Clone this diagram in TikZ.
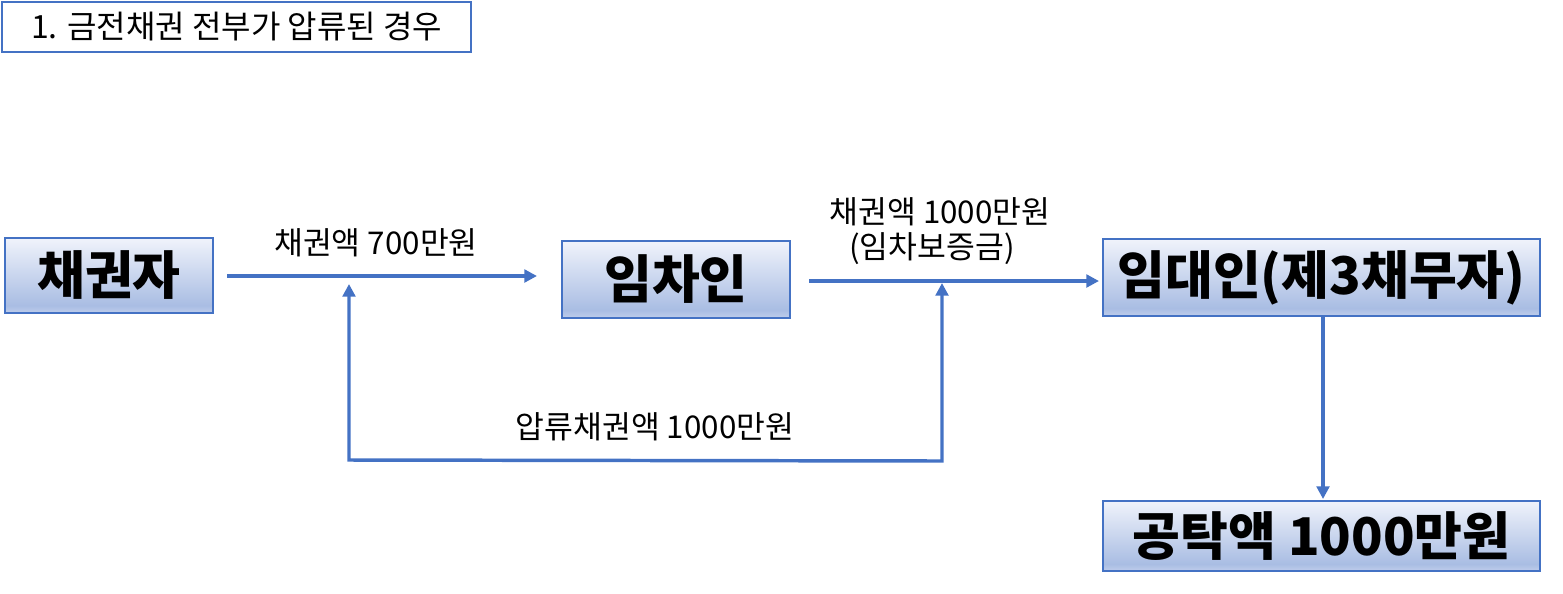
\documentclass[tikz,border=0pt]{standalone}
\usepackage{fontspec}
\setmainfont{Noto Sans CJK KR}
\usetikzlibrary{arrows.meta,calc}
\definecolor{lineblue}{HTML}{4472C4}
\definecolor{gtop}{HTML}{F0F3FB}
\definecolor{gmid}{HTML}{A9BDE3}
\definecolor{gbot}{HTML}{BFCDEB}
\pgfdeclareverticalshading{boxgrad}{100bp}{color(0bp)=(gbot); color(25bp)=(gbot); color(30bp)=(gmid); color(75bp)=(gtop); color(100bp)=(gtop)}
\begin{document}
\begin{tikzpicture}[x=0.75pt,y=-0.75pt,
  bigbox/.style={draw=lineblue,line width=1.5pt,shading=boxgrad,rectangle,inner sep=0pt,
    font=\fontsize{39}{43}\selectfont\bfseries},
  titlebox/.style={draw=lineblue,line width=1.5pt,fill=white,rectangle,inner sep=0pt,
    font=\fontsize{24}{28}\selectfont},
  lab/.style={inner sep=0pt,font=\fontsize{23.5}{27}\selectfont,align=center},
  tip/.style={},
  conn/.style={draw=lineblue,line width=2.6pt,-{Triangle[length=9.5pt,width=9.5pt]}},
  connb/.style={draw=lineblue,line width=2.6pt,{Triangle[length=9.5pt,width=9.5pt]}-{Triangle[length=9.5pt,width=9.5pt]}}]
\useasboundingbox (0,0) rectangle (1563,593);
\node[titlebox,minimum width=352pt,minimum height=37.5pt] (T) at (236.5,27) {1. 금전채권 전부가 압류된 경우};
\node[bigbox,minimum width=156pt,minimum height=56.25pt] (A) at (109,275.5) {채권자};
\node[bigbox,minimum width=171pt,minimum height=57.75pt] (B) at (676,279.5) {임차인};
\node[bigbox,minimum width=327.75pt,minimum height=57.75pt] (C) at (1321.5,277.5) {임대인(제3채무자)};
\node[bigbox,minimum width=327.75pt,minimum height=52.5pt] (D) at (1321.5,536) {공탁액 1000만원};
\node[lab] (L1) at (376,243) {채권액 700만원};
\node[lab] (L2) at (940,212) {채권액 1000만원};
\node[lab] (L3) at (932,249) {(임차보증금)};
\node[lab] (L4) at (655,427) {압류채권액 1000만원};
\draw[conn] ($(A.east)+(13,0.5)$) -- ($(B.west |- A.east)+(-24,0.5)$);
\draw[conn] ($(B.east)+(18,1.5)$) -- ($(C.west |- B.east)+(-3,1.5)$);
\coordinate (u1) at (349,284);
\coordinate (u2) at (942,283);
\coordinate (b1) at (349,460);
\coordinate (b2) at (942,461);
\draw[connb] (u1) -- (b1) -- (b2) -- (u2);
\draw[conn] ($(C.south)+(1.5,0)$) -- ($(D.north)+(1.5,-1)$);
\end{tikzpicture}
\end{document}
